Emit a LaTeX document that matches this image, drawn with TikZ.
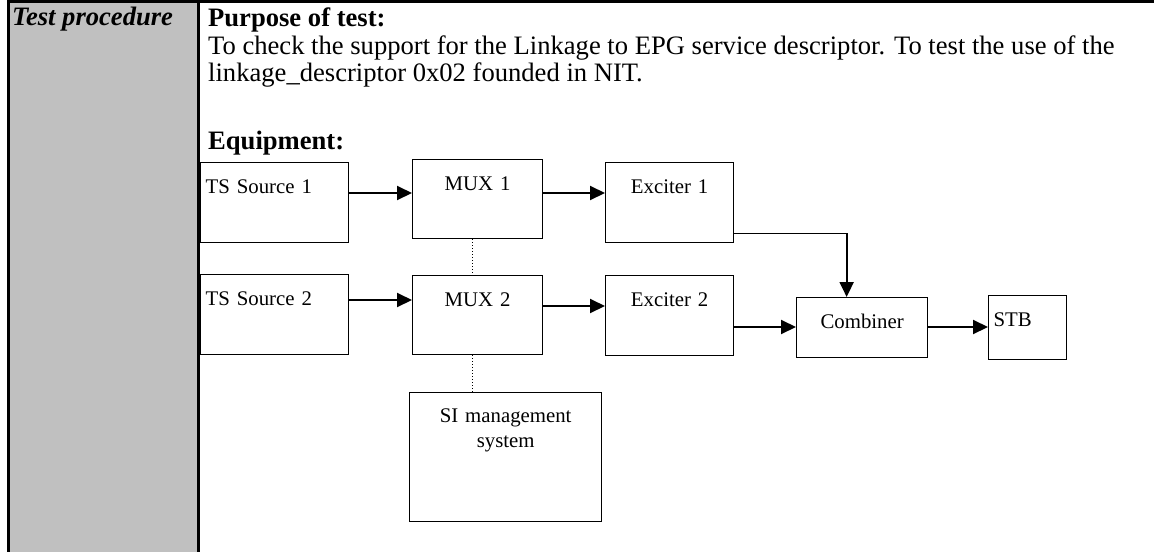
\documentclass[tikz,border=0pt]{standalone}
\usepackage{fontspec}
\setmainfont{Liberation Serif}
\usetikzlibrary{arrows.meta,calc}
\definecolor{cellgray}{HTML}{C0C0C0}
\begin{document}
\begin{tikzpicture}[x=1pt,y=-1pt,
  box/.style={draw, line width=1.3pt, inner xsep=5pt, inner ysep=0pt, anchor=north west,
              font=\fontsize{20.8}{25}\selectfont, text height=31pt},
  arr/.style={line width=2pt, -{Triangle[length=15pt,width=14pt]}},
  thinconn/.style={line width=1.3pt},
  dotconn/.style={line width=1pt, dash pattern=on 1pt off 2pt},
  body/.style={anchor=base west, inner sep=0pt, font=\fontsize{26.6}{27.5}\selectfont},
  bodybold/.style={anchor=base west, inner sep=0pt, font=\fontsize{26.6}{27.5}\selectfont\bfseries},
  tablerule/.style={line width=3pt}]
\useasboundingbox (0,0) rectangle (1154,552);
% table
\fill[cellgray] (10,0) rectangle (197,552);
\draw[tablerule] (7,1.3) -- (1154,1.3);
\draw[tablerule] (8.5,0) -- (8.5,552);
\draw[tablerule] (198.5,0) -- (198.5,552);
% texts
\node[anchor=base west, inner sep=0pt, font=\fontsize{26.6}{27.5}\selectfont\bfseries\itshape] (tp) at (12,25.5) {Test procedure};
\node[bodybold] (purpose) at (208,26) {Purpose of test:};
\node[body] (desc1) at (208,54) {To check the support for the Linkage to EPG service descriptor. To test the use of the};
\node[body] (desc2) at (208,81) {linkage\_descriptor 0x02 founded in NIT.};
\node[bodybold] (equip) at (208,149) {Equipment:};
% boxes
\node[box, text width=138pt, text depth=49pt, align=left] (ts1) at (200,162) {TS Source 1};
\node[box, text width=120pt, text depth=48pt, align=center] (mux1) at (412,159) {MUX 1};
\node[box, text width=118pt, text depth=49pt, align=center] (exc1) at (605,162) {Exciter 1};
\node[box, text width=138pt, text depth=49pt, align=left] (ts2) at (200,274) {TS Source 2};
\node[box, text width=120pt, text depth=48pt, align=center] (mux2) at (412,275) {MUX 2};
\node[box, text width=118pt, text depth=49pt, align=center] (exc2) at (605,275) {Exciter 2};
\node[box, text width=121pt, text depth=29pt, align=center] (comb) at (796,297) {Combiner};
\node[box, text width=68pt, text depth=33pt, align=left] (stb) at (988,295) {STB};
\node[box, text width=182pt, text height=30pt, text depth=99pt, align=center] (si) at (409,392) {SI management\\system};
% connectors
\coordinate (p1) at ([yshift=-31pt]ts1.north east);
\draw[arr] (p1) -- (p1 -| mux1.west);
\coordinate (p2) at ([yshift=-34pt]mux1.north east);
\draw[arr] (p2) -- (p2 -| exc1.west);
\coordinate (p3) at ([yshift=-26pt]ts2.north east);
\draw[arr] (p3) -- (p3 -| mux2.west);
\coordinate (p4) at ([yshift=-31pt]mux2.north east);
\draw[arr] (p4) -- (p4 -| exc2.west);
\coordinate (p5) at ([yshift=10pt]exc1.south east);
\coordinate (cn) at ([xshift=-15.5pt]comb.north);
\draw[thinconn] (p5) -- (p5 -| cn);
\draw[arr] (p5 -| cn) -- (cn);
\coordinate (p7) at ([yshift=-52pt]exc2.north east);
\draw[arr] (p7) -- (p7 -| comb.west);
\coordinate (p8) at ([yshift=-30pt]comb.north east);
\draw[arr] (p8) -- (p8 -| stb.west);
\coordinate (dx) at (472,0);
\draw[dotconn] (mux1.south -| dx) -- (mux2.north -| dx);
\draw[dotconn] (mux2.south -| dx) -- (si.north -| dx);
\end{tikzpicture}
\end{document}
